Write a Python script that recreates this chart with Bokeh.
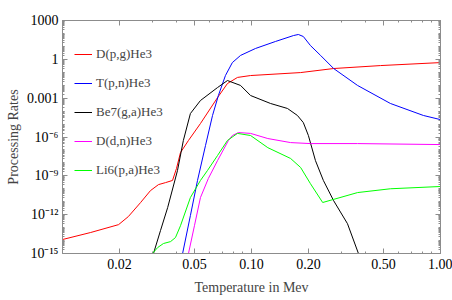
import json
from bokeh.plotting import figure
from bokeh.models import Range1d, FixedTicker, LogAxis, CustomJSTickFormatter, Legend, LegendItem
from bokeh.embed import file_html
from bokeh.resources import INLINE

# ---- data ----
temp_dpg = [0.0100, 0.0141, 0.0198, 0.0223, 0.0259, 0.0292, 0.0322, 0.0351, 0.0382, 0.0401,
            0.0421, 0.0464, 0.0537, 0.0661, 0.0746, 0.0843, 0.0989, 0.182, 0.272, 0.482, 1.0]
rate_dpg = [1.2e-14, 4.2e-14, 1.7e-13, 7.1e-13, 8.7e-12, 7.2e-11, 2.1e-10, 3.0e-10, 4.4e-10, 3.7e-9,
            6.3e-8, 5.4e-7, 1.1e-5, 1.1e-3, 1.35e-2, 4.0e-2, 5.6e-2, 9.5e-2, 0.195, 0.33, 0.56]

temp_tpn = [0.0432, 0.0475, 0.0518, 0.0571, 0.0622, 0.0668, 0.0728, 0.0792, 0.0875, 0.105, 0.134,
            0.167, 0.177, 0.188, 0.205, 0.232, 0.272, 0.364, 0.543, 0.812, 1.0]
rate_tpn = [1e-15, 8.5e-13, 4.4e-10, 2.2e-7, 4.6e-5, 1.6e-3, 5.6e-2, 0.56, 2.0, 6.9, 24,
            69, 83, 58, 11.7, 2.0, 0.195, 9.6e-3, 3.9e-4, 4.6e-5, 2.2e-5]

temp_be7 = [0.0303, 0.0330, 0.0360, 0.0406, 0.0436, 0.0475, 0.0537, 0.0661, 0.0746, 0.0875, 0.0989,
            0.126, 0.155, 0.175, 0.188, 0.200, 0.218, 0.240, 0.272, 0.322, 0.368]
rate_be7 = [1e-15, 5.9e-14, 3.5e-12, 2.6e-9, 5.4e-7, 6.5e-5, 6.6e-4, 6.6e-3, 2.3e-2, 9.6e-3, 1.6e-3,
            3.9e-4, 1.6e-4, 4.6e-5, 1.3e-5, 1.3e-6, 1.5e-8, 4.4e-10, 1.2e-11, 2.0e-13, 1e-15]

temp_ddn = [0.0464, 0.0499, 0.0537, 0.0591, 0.0661, 0.0755, 0.0792, 0.0853, 0.0989, 0.122, 0.161,
            0.205, 0.364, 1.0]
rate_ddn = [1e-15, 1.4e-13, 2.1e-11, 6.2e-10, 1.5e-8, 5.4e-7, 1.3e-6, 2.2e-6, 1.9e-6, 7.6e-7, 3.7e-7,
            3.1e-7, 3.1e-7, 2.6e-7]

temp_li6 = [0.0299, 0.0319, 0.0342, 0.0373, 0.0396, 0.0421, 0.0475, 0.0537, 0.0585, 0.0661, 0.0746,
            0.0843, 0.0989, 0.122, 0.161, 0.182, 0.205, 0.238, 0.364, 0.543, 1.0]
rate_li6 = [1e-15, 2.9e-15, 5.9e-15, 8.3e-15, 1.7e-14, 1.4e-13, 2.1e-11, 4.4e-10, 2.6e-9, 3.7e-8, 5.4e-7,
            1.9e-6, 1.3e-6, 1.5e-7, 2.2e-8, 4.4e-9, 2.5e-10, 8.7e-12, 5.1e-11, 1.0e-10, 1.5e-10]

series_names = ["D(p,g)He3", "T(p,n)He3", "Be7(g,a)He3", "D(d,n)He3", "Li6(p,a)He3"]
series_colors = ["#ff0000", "#0000ff", "#000000", "#ff00ff", "#00ff00"]

x_tick_values = [0.02, 0.05, 0.1, 0.2, 0.5, 1.0]
x_tick_labels = ["0.02", "0.05", "0.10", "0.20", "0.50", "1.00"]
y_tick_values = [1e-15, 1e-12, 1e-9, 1e-6, 1e-3, 1.0, 1e3]
y_tick_labels = ["10\u207b\u00b9\u2075", "10\u207b\u00b9\u00b2", "10\u207b\u2079", "10\u207b\u2076",
                 "0.001", "1", "1000"]

FONT = "Liberation Serif"
AXIS_COLOR = "#8c8c8c"

p = figure(width=452, height=300, x_axis_type="log", y_axis_type="log",
           x_range=Range1d(0.01, 1.0), y_range=Range1d(1e-15, 1e3),
           output_backend="svg", toolbar_location=None,
           min_border_left=62, min_border_right=12, min_border_top=20, min_border_bottom=47)
p.xgrid.visible = False
p.ygrid.visible = False
p.outline_line_color = None
p.background_fill_color = "white"


def make_formatter(vals, labs):
    code = ("const v=%s; const l=%s; const t=Math.log10(tick);"
            "for (let i=0;i<v.length;i++){ if (Math.abs(Math.log10(v[i])-t)<1e-6) return l[i]; }"
            "return '';") % (json.dumps(vals), json.dumps(labs, ensure_ascii=False))
    return CustomJSTickFormatter(code=code)


x_minor = [m * 10.0 ** d for d in (-2, -1) for m in range(1, 10)] + [1.0]
y_minor = [m * 10.0 ** d for d in range(-15, 3) for m in range(1, 10)] + [1e3]
xt = FixedTicker(ticks=x_tick_values, minor_ticks=x_minor)
yt = FixedTicker(ticks=y_tick_values, minor_ticks=y_minor)


def style_axis(ax, show_labels=True):
    ax.axis_line_color = AXIS_COLOR
    ax.major_tick_line_color = AXIS_COLOR
    ax.minor_tick_line_color = AXIS_COLOR
    ax.major_tick_in = 5
    ax.major_tick_out = 0
    ax.minor_tick_in = 2
    ax.minor_tick_out = 0
    ax.major_label_text_font = FONT
    ax.major_label_text_color = "black"
    if show_labels:
        ax.major_label_text_font_size = "14px"
        ax.major_label_standoff = 5
    else:
        ax.major_label_text_font_size = "0px"
        ax.major_label_standoff = 0
        ax.major_label_text_alpha = 0
        ax.axis_label_standoff = 0


xa = p.xaxis[0]
xa.ticker = xt
xa.formatter = make_formatter(x_tick_values, x_tick_labels)
style_axis(xa)
xa.axis_label = "Temperature in Mev"
xa.axis_label_text_font = FONT
xa.axis_label_text_font_style = "normal"
xa.axis_label_text_font_size = "14px"
xa.axis_label_standoff = 8

ya = p.yaxis[0]
ya.ticker = yt
ya.formatter = make_formatter(y_tick_values, y_tick_labels)
style_axis(ya)
ya.major_label_standoff = 4
ya.axis_label = "Processing Rates"
ya.axis_label_text_font = FONT
ya.axis_label_text_font_style = "normal"
ya.axis_label_text_font_size = "14px"
ya.axis_label_standoff = 3

top = LogAxis(ticker=xt, formatter=make_formatter(x_tick_values, [""] * len(x_tick_values)))
style_axis(top, False)
p.add_layout(top, "above")
right = LogAxis(ticker=yt, formatter=make_formatter(y_tick_values, [""] * len(y_tick_values)))
style_axis(right, False)
p.add_layout(right, "right")

all_series = [(temp_dpg, rate_dpg), (temp_tpn, rate_tpn), (temp_be7, rate_be7),
              (temp_ddn, rate_ddn), (temp_li6, rate_li6)]
items = []
for (tx, ry), name, col in zip(all_series, series_names, series_colors):
    r = p.line(tx, ry, line_color=col, line_width=1)
    items.append(LegendItem(label=name, renderers=[r]))

legend = Legend(items=items, location=(12, 73), padding=0, margin=0, spacing=9,
                glyph_width=18, glyph_height=20, label_height=20, label_standoff=4,
                label_text_font=FONT, label_text_font_size="13px",
                background_fill_alpha=0, border_line_alpha=0)
p.add_layout(legend, "center")

open("out.html", "w").write(file_html(p, INLINE))
